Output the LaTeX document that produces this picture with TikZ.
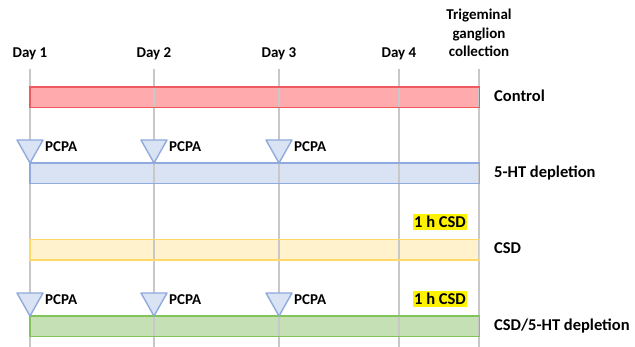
\documentclass[tikz,border=0pt]{standalone}
\usepackage{fontspec}
\setmainfont{Carlito}
\definecolor{gridc}{HTML}{C8C8C8}
\definecolor{redf}{HTML}{FFABAE}
\definecolor{redd}{HTML}{EE5A5F}
\definecolor{bluef}{HTML}{DAE3F3}
\definecolor{blued}{HTML}{8FAADC}
\definecolor{yelf}{HTML}{FFF2CC}
\definecolor{yeld}{HTML}{FFD966}
\definecolor{grnf}{HTML}{C5E0B4}
\definecolor{grnd}{HTML}{82C35A}
\begin{document}
\begin{tikzpicture}[x=1pt,y=-1pt,
  lbl/.style={font=\fontsize{15}{18.5}\selectfont\bfseries, inner sep=0pt},
  rlbl/.style={font=\fontsize{16.5}{19}\selectfont\bfseries, inner sep=0pt, anchor=base west},
  gridline/.style={draw=gridc, line width=2pt},
  barbox/.style={minimum height=20pt, minimum width=449pt, inner sep=0pt, anchor=north west},
  barline/.style={line width=1.4pt},
  tri/.style={fill=bluef, draw=blued, line width=1.4pt, line join=round},
  hl/.style={font=\fontsize{16.5}{19}\selectfont\bfseries, fill=yellow, inner xsep=1pt, inner ysep=2pt, anchor=base}
]
\useasboundingbox (0,0) rectangle (635,347);

% bars (fill)
\node[barbox, fill=redf] (control) at (30,87) {};
\node[barbox, fill=bluef] (ht) at (30,163) {};
\node[barbox, fill=yelf] (csd) at (30,239.5) {};
\node[barbox, fill=grnf] (both) at (30,316) {};

% grid lines
\foreach \n/\x in {d1/30,d2/154,d3/279,d4/399,tg/479}{
  \coordinate (\n top) at (\x,69);
  \coordinate (\n bot) at (\x,347);
  \draw[gridline] (\n top) -- (\n bot);
}

% bar borders
\draw[barline, draw=redd] (control.south west) rectangle (control.north east);
\draw[barline, draw=blued] (ht.south west) rectangle (ht.north east);
\draw[barline, draw=yeld] (csd.south west) rectangle (csd.north east);
\draw[barline, draw=grnd] (both.south west) rectangle (both.north east);

% day labels
\node[lbl, anchor=base] (l1) at (30,58) {Day 1};
\node[lbl, anchor=base] (l2) at (154,58) {Day 2};
\node[lbl, anchor=base] (l3) at (279,58) {Day 3};
\node[lbl, anchor=base] (l4) at (399,58) {Day 4};
\node[lbl, anchor=base, align=center] (ltg) at (479,57) {Trigeminal\\ganglion\\collection};

% right labels
\node[rlbl] (tcontrol) at (494,102) {Control};
\node[rlbl] (tht) at (494,178) {5-HT depletion};
\node[rlbl] (tcsd) at (494,254) {CSD};
\node[rlbl] (tboth) at (494,331) {CSD/5-HT depletion};

% triangles and PCPA
\foreach \r/\y in {a/140,b/293}{
  \foreach \d/\x in {1/30,2/154,3/279}{
    \coordinate (tip\r\d) at (\x,\y+23);
    \draw[tri] (\x-13,\y) -- (\x+13,\y) -- (tip\r\d) -- cycle;
    \node[lbl, anchor=base west] (p\r\d) at (\x+15,\y+12) {PCPA};
  }
}

% 1 h CSD
\node[hl] (h1) at (440,228) {1 h CSD};
\node[hl] (h2) at (440,305) {1 h CSD};
\end{tikzpicture}
\end{document}
